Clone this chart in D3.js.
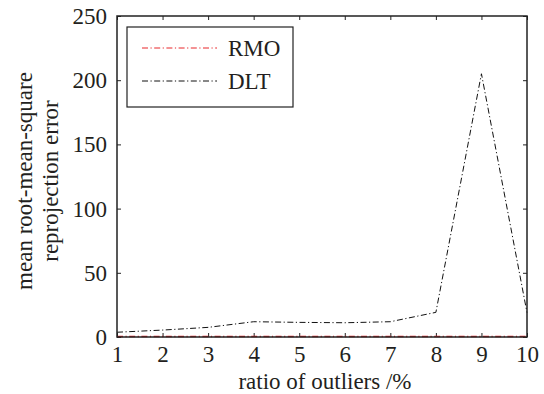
<!DOCTYPE html>
<html><head><meta charset="utf-8">
<script src="https://cdn.jsdelivr.net/npm/d3@7"></script>
<style>body{margin:0;background:#fff}svg{display:block}
svg text{font-family:"Liberation Serif","Times New Roman",Times,serif;fill:#231f20}</style>
</head><body>
<script>
const xValues = [1,2,3,4,5,6,7,8,9,10];
const rmo = [0.4,0.4,0.4,0.4,0.4,0.4,0.4,0.4,0.4,0.4];
const dlt = [3.7,5.4,7.5,11.9,11.4,11.1,11.9,19.2,205,19];
const yTicks = [0,50,100,150,200,250];
const seriesNames = ["RMO","DLT"];
const seriesColors = ["#e8262b","#111"];

const W=544,H=394;
const m={l:117,r:17,t:16,b:57};
const svg=d3.select("body").append("svg").attr("width",W).attr("height",H);
const x=d3.scaleLinear().domain([1,10]).range([m.l,W-m.r]);
const y=d3.scaleLinear().domain([0,250]).range([H-m.b,m.t]);
const FS=23;

const g=svg.append("g");
const xa=g.append("g").attr("transform",`translate(0,${y(0)})`)
 .call(d3.axisBottom(x).tickValues(xValues).tickFormat(d3.format("d")).tickSizeInner(-4).tickSizeOuter(0).tickPadding(8));
const xt=g.append("g").attr("transform",`translate(0,${y(250)})`)
 .call(d3.axisTop(x).tickValues(xValues).tickFormat("").tickSizeInner(-4).tickSizeOuter(0));
const ya=g.append("g").attr("transform",`translate(${x(1)},0)`)
 .call(d3.axisLeft(y).tickValues(yTicks).tickSizeInner(-4).tickSizeOuter(0).tickPadding(10));
const yr=g.append("g").attr("transform",`translate(${x(10)},0)`)
 .call(d3.axisRight(y).tickValues(yTicks).tickFormat("").tickSizeInner(-4).tickSizeOuter(0));
[xa,xt,ya,yr].forEach(a=>{
  a.select(".domain").remove();
  a.attr("font-family",null).attr("font-size",null);
  a.selectAll("line").attr("stroke","#222").attr("stroke-width",1);
  a.selectAll("text").attr("font-size",FS).attr("fill","#231f20");
});
ya.selectAll("text").attr("dy","0.33em");
xa.selectAll("text").attr("dy","0.72em");

const lineGen=d3.line().x((d,i)=>x(xValues[i])).y(d=>y(d));
const dash="6,2.5,1.2,2.5";
g.append("path").datum(dlt).attr("d",lineGen).attr("fill","none")
 .attr("stroke",seriesColors[1]).attr("stroke-width",1).attr("stroke-dasharray",dash);
g.append("path").datum(rmo).attr("d",lineGen).attr("fill","none")
 .attr("stroke",seriesColors[0]).attr("stroke-width",1.5).attr("stroke-dasharray",dash);

g.append("rect").attr("x",x(1)).attr("y",y(250)).attr("width",x(10)-x(1)).attr("height",y(0)-y(250))
 .attr("fill","none").attr("stroke","#222").attr("stroke-width",1.5);

const lg=g.append("g");
lg.append("rect").attr("x",127).attr("y",27).attr("width",166).attr("height",80)
 .attr("fill","#fff").attr("stroke","#222").attr("stroke-width",1.2);
seriesNames.forEach((n,i)=>{
  const yy=48+i*33;
  lg.append("line").attr("x1",142).attr("x2",217).attr("y1",yy).attr("y2",yy)
   .attr("stroke",seriesColors[i]).attr("stroke-width",1).attr("stroke-dasharray",dash);
  lg.append("text").attr("x",228).attr("y",yy).attr("dy","0.35em").text(n)
   .attr("font-size",FS);
});

svg.append("text").attr("x",(x(1)+x(10))/2+3).attr("y",389).attr("text-anchor","middle")
 .attr("font-size",FS).text("ratio of outliers /%");
const yl=svg.append("text").attr("transform",`translate(32,181) rotate(-90)`)
 .attr("text-anchor","middle").attr("font-size",FS);
yl.append("tspan").attr("x",0).attr("dy",0).text("mean root-mean-square");
yl.append("tspan").attr("x",0).attr("dy",26).text("reprojection error");
</script>
</body></html>
